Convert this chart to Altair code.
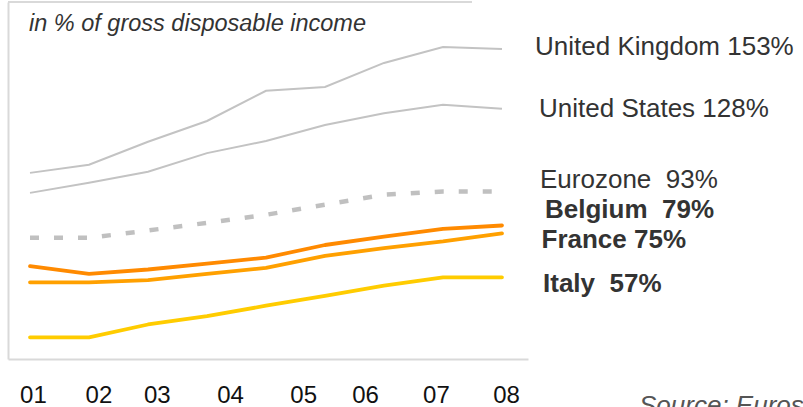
import altair as alt
import pandas as pd

# ---- data ----
series = ["United Kingdom", "United States", "Eurozone", "Belgium", "France", "Italy"]
periods = [0, 1, 2, 3, 4, 5, 6, 7, 8]
uk = [100.9, 104.3, 114.0, 122.7, 135.4, 137.0, 147.1, 153.8, 153.0]
us = [92.5, 96.8, 101.4, 109.2, 114.3, 121.0, 126.0, 129.5, 127.8]
ez = [73.6, 73.6, 76.7, 79.9, 83.3, 87.5, 91.7, 93.1, 93.1]
be = [61.7, 58.5, 60.3, 62.8, 65.3, 70.6, 74.1, 77.4, 78.8]
fr = [54.9, 54.9, 55.8, 58.5, 61.0, 66.0, 69.3, 72.1, 75.5]
it = [31.8, 31.8, 37.2, 40.7, 45.1, 49.2, 53.5, 57.0, 57.0]
tick_labels = ["01", "02", "03", "04", "05", "06", "07", "08"]
tick_pos = [0.05, 1.16, 2.15, 3.39, 4.63, 5.68, 6.88, 8.07]
end_labels = ["United Kingdom 153%", "United States 128%", "Eurozone\u00a0\u00a093%",
              "Belgium\u00a0\u00a079%", "France 75%", "Italy\u00a0\u00a057%"]

colors = ["#C3C3C3", "#C3C3C3", "#C0C0C0", "#FF8A00", "#FFA000", "#FFCC00"]

rows = []
for name, vals in zip(series, [uk, us, ez, be, fr, it]):
    for t, v in zip(periods, vals):
        rows.append({"s": name, "t": t, "v": v})
df = pd.DataFrame(rows)

frame_col = "#D9D9D9"
label_expr = "[" + ",".join("'%s'" % l for l in tick_labels) + "][indexof([" + \
    ",".join(str(p) for p in tick_pos) + "], datum.value)]"

x_enc = alt.X("t:Q", scale=alt.Scale(domain=[-0.373, 8.441], nice=False, zero=False),
              axis=alt.Axis(values=tick_pos, labelExpr=label_expr, title=None,
                            domain=True, domainColor=frame_col, domainWidth=2,
                            ticks=False, grid=False, labelPadding=24,
                            labelFontSize=24, labelColor="#111111",
                            labelFont="Liberation Sans Narrow, Arial Narrow, Liberation Sans, sans-serif",
                            labelOverlap=False, labelFlush=False))
y_enc = alt.Y("v:Q", scale=alt.Scale(domain=[22.7, 172.7], nice=False, zero=False),
              axis=alt.Axis(labels=False, ticks=False, grid=False, title=None,
                            domain=True, domainColor=frame_col, domainWidth=2))
c_enc = alt.Color("s:N", scale=alt.Scale(domain=series, range=colors), legend=None)

base = alt.Chart(df).encode(x=x_enc, y=y_enc, color=c_enc, detail="s:N", order=alt.Order("t:Q"))

grey = base.mark_line(strokeWidth=2, strokeCap="butt").transform_filter(
    alt.FieldOneOfPredicate(field="s", oneOf=series[:2]))
euro = base.mark_line(strokeWidth=4.5, strokeDash=[9, 15], strokeCap="butt").transform_filter(
    alt.FieldEqualPredicate(field="s", equal=series[2]))
warm = base.mark_line(strokeWidth=3.8, strokeCap="round", strokeJoin="round").transform_filter(
    alt.FieldOneOfPredicate(field="s", oneOf=series[3:]))

top_line = alt.Chart(pd.DataFrame({"a": [0]})).mark_rule(color=frame_col, strokeWidth=2).encode(
    x=alt.value(0), x2=alt.value(464), y=alt.value(0))


def txt(s, x, y, size=26, weight="normal", style="normal", color="#333333"):
    return alt.Chart(pd.DataFrame({"label": [s]})).mark_text(
        align="left", baseline="alphabetic", font="Liberation Sans", fontSize=size,
        fontWeight=weight, fontStyle=style, color=color
    ).encode(text="label:N", x=alt.value(x), y=alt.value(y))


texts = [
    txt("in % of gross disposable income", 21, 28.7, size=23.5, style="italic"),
    txt(end_labels[0], 527, 53),
    txt(end_labels[1], 531, 114.7),
    txt(end_labels[2], 532, 186.3),
    txt(end_labels[3], 537, 216.3, weight="bold"),
    txt(end_labels[4], 533.5, 246.3, weight="bold"),
    txt(end_labels[5], 535, 289.7, weight="bold"),
    txt("Source: Eurostat", 631, 411.7, style="italic", color="#555555"),
]

chart = alt.layer(grey, euro, warm, top_line, *texts).properties(
    width=520, height=357,
    autosize=alt.AutoSizeParams(type="none"),
    padding={"left": 8, "top": 2, "right": 275, "bottom": 48},
    background="white",
).configure_view(stroke=None)

chart.save("out.html", embed_options={"renderer": "svg", "actions": False})
